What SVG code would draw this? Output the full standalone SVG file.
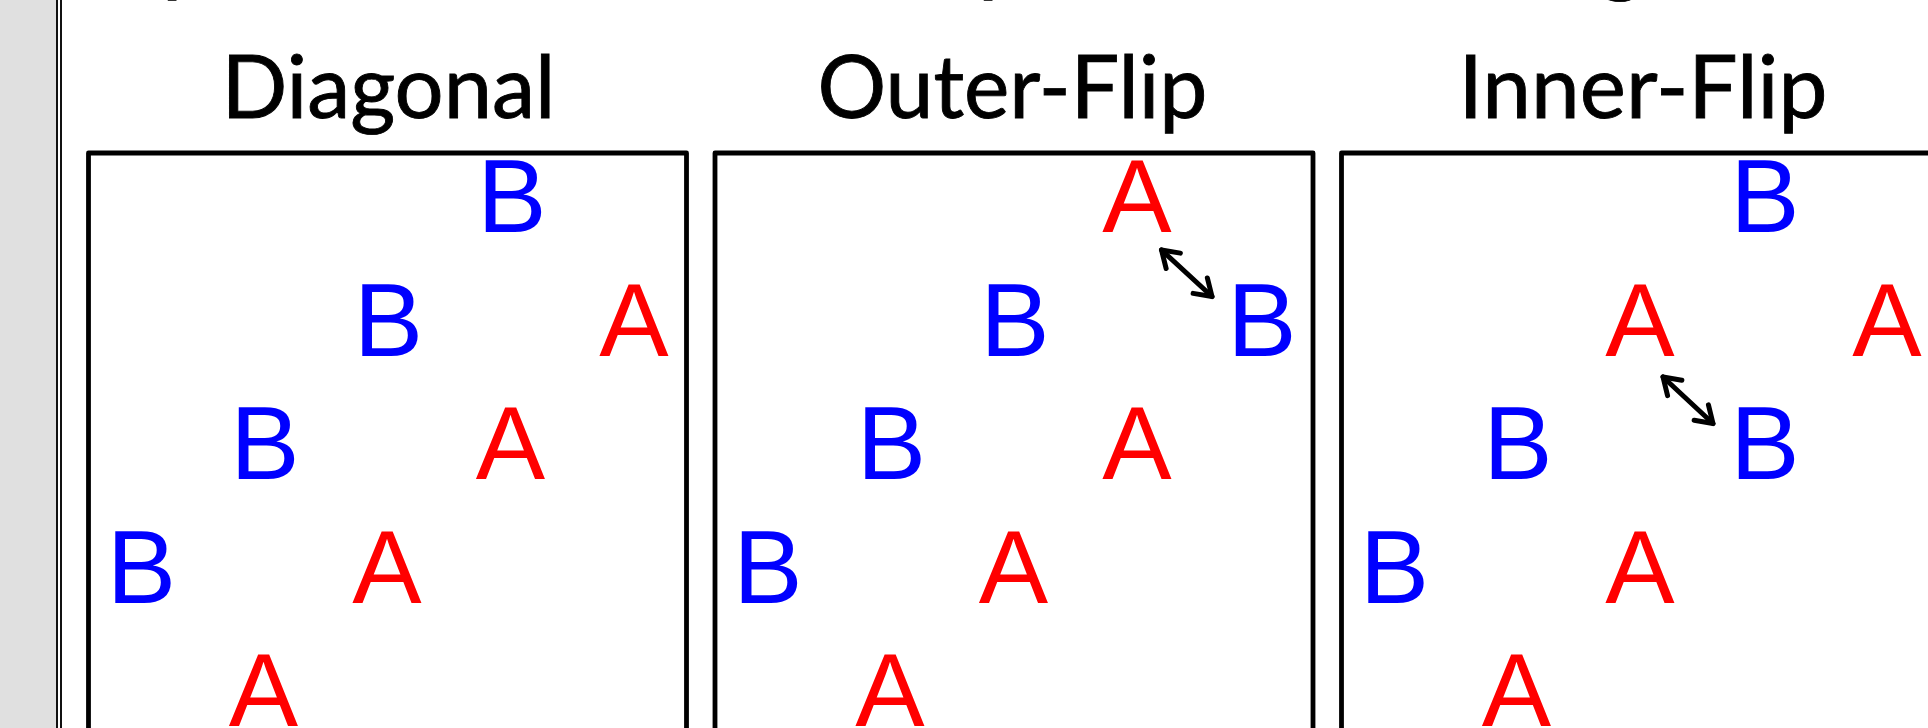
<svg xmlns="http://www.w3.org/2000/svg" width="1928" height="728" viewBox="0 0 1928 728">
  <style>
    .title { font-family: Lato, "Open Sans", sans-serif; font-size: 88px; fill: #000; stroke: #000; stroke-width: 0.9px; text-anchor: middle; }
    .frame { fill: none; stroke: #000; stroke-width: 4.8; stroke-linejoin: round; }
    .ltr { font-family: "Liberation Sans", Arial, sans-serif; font-size: 104px; text-anchor: middle; }
    .a { fill: #ff0000; }
    .b { fill: #0000ff; }
    .swap { fill: none; stroke: #000; stroke-width: 5; stroke-linecap: round; marker-start: url(#vhead); marker-end: url(#vhead); }
  </style>
  <defs>
    <marker id="vhead" markerUnits="userSpaceOnUse" viewBox="-24 -14 28 28" markerWidth="28" markerHeight="28" refX="0" refY="0" orient="auto-start-reverse" overflow="visible">
      <path d="M-16,-10.5 L0,0 L-16,10.5" fill="none" stroke="#000" stroke-width="5" stroke-linecap="round" stroke-linejoin="round"/>
    </marker>
  </defs>

  <rect width="1928" height="728" fill="#fff"/>
  <!-- left margin strip with its double rule -->
  <rect x="0" y="0" width="56" height="728" fill="#e0e0e0"/>
  <line x1="57" y1="0" x2="57" y2="728" stroke="#111" stroke-width="2"/>
  <line x1="61" y1="0" x2="61" y2="728" stroke="#111" stroke-width="2"/>

  <!-- descenders of the heading line above -->
  <g id="heading-tail" class="title" style="text-anchor:start">
    <text x="162" y="-15">p</text>
    <text x="978" y="-15">p</text>
    <text x="1598" y="-15">g</text>
  </g>

  <!-- Diagonal -->
  <g id="panel-diagonal">
    <text class="title" x="388.5" y="118" textLength="334" lengthAdjust="spacingAndGlyphs">Diagonal</text>
    <rect class="frame" x="88.5" y="153" width="598" height="700"/>
    <text id="d-b1" class="ltr b" x="512" y="232">B</text>
    <text id="d-b2" class="ltr b" x="388.5" y="355.5">B</text>
    <text id="d-a1" class="ltr a" x="634" y="355.5">A</text>
    <text id="d-b3" class="ltr b" x="265" y="479">B</text>
    <text id="d-a2" class="ltr a" x="510.5" y="479">A</text>
    <text id="d-b4" class="ltr b" x="141.5" y="602.5">B</text>
    <text id="d-a3" class="ltr a" x="387" y="602.5">A</text>
    <text id="d-a4" class="ltr a" x="263.5" y="726">A</text>
  </g>

  <!-- Outer-Flip -->
  <g id="panel-outer" transform="translate(626.5,0)">
    <text class="title" x="386" y="118" textLength="390" lengthAdjust="spacingAndGlyphs">Outer-Flip</text>
    <rect class="frame" x="88.5" y="153" width="598" height="700"/>
    <text id="o-a1" class="ltr a" x="510.5" y="232">A</text>
    <text id="o-b1" class="ltr b" x="388.5" y="355.5">B</text>
    <text id="o-b2" class="ltr b" x="635.5" y="355.5">B</text>
    <text id="o-b3" class="ltr b" x="265" y="479">B</text>
    <text id="o-a2" class="ltr a" x="510.5" y="479">A</text>
    <text id="o-b4" class="ltr b" x="141.5" y="602.5">B</text>
    <text id="o-a3" class="ltr a" x="387" y="602.5">A</text>
    <text id="o-a4" class="ltr a" x="263.5" y="726">A</text>
  </g>

  <!-- Inner-Flip -->
  <g id="panel-inner" transform="translate(1253,0)">
    <text class="title" x="390" y="118" textLength="369" lengthAdjust="spacingAndGlyphs">Inner-Flip</text>
    <rect class="frame" x="88.5" y="153" width="598" height="700"/>
    <text id="i-b1" class="ltr b" x="512" y="232">B</text>
    <text id="i-a1" class="ltr a" x="387" y="355.5">A</text>
    <text id="i-a2" class="ltr a" x="634" y="355.5">A</text>
    <text id="i-b2" class="ltr b" x="265" y="479">B</text>
    <text id="i-b3" class="ltr b" x="512" y="479">B</text>
    <text id="i-b4" class="ltr b" x="141.5" y="602.5">B</text>
    <text id="i-a3" class="ltr a" x="387" y="602.5">A</text>
    <text id="i-a4" class="ltr a" x="263.5" y="726">A</text>
  </g>

  <!-- swap arrows -->
  <g id="connectors">
    <line class="swap" x1="1161.5" y1="250" x2="1212" y2="296.5"/>
    <line class="swap" x1="1663" y1="377" x2="1713" y2="423.5"/>
  </g>
</svg>
